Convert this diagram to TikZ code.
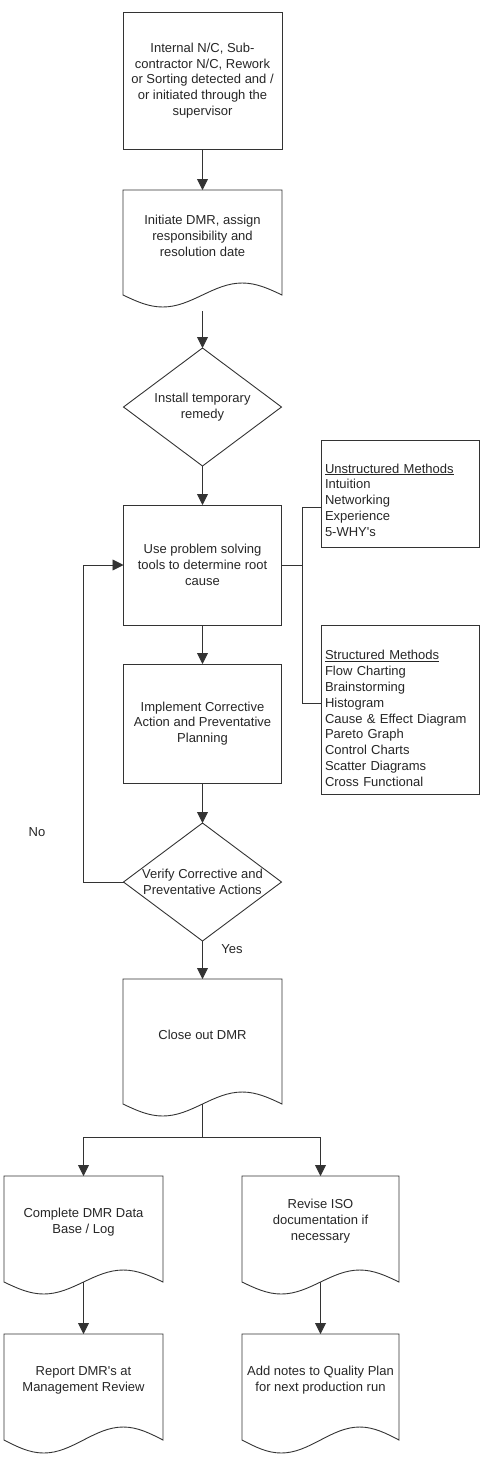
\documentclass[tikz,border=0pt]{standalone}
\usepackage{fontspec}
\setmainfont{Liberation Sans}
\usetikzlibrary{arrows.meta,shapes.geometric,calc}
\newcommand\docoutline[2]{%
  \draw[ln] (#1.south west) -- (#1.north west) -- (#1.north east) -- (#1.south east)
    sin ($(#1.south west)!0.75!(#1.south east)+(0,-#2)$)
    cos (#1.south)
    sin ($(#1.south west)!0.25!(#1.south east)+(0,#2)$)
    cos (#1.south west) -- cycle;}
\begin{document}
\begin{tikzpicture}[x=1pt,y=-1pt,
  every node/.style={font=\fontsize{13}{15.8}\selectfont, text=black!85},
  ln/.style={draw=black!80, line width=0.9pt},
  arr/.style={ln, -{Triangle[length=11pt,width=11pt]}},
  procbox/.style={rectangle, ln, inner sep=0pt, outer sep=0pt, align=center},
  docbox/.style={rectangle, draw=none, inner sep=0pt, outer sep=0pt},
  decision/.style={diamond, ln, inner sep=0pt, outer sep=0pt, minimum width=158pt, minimum height=118pt},
  txt/.style={align=center, inner sep=0pt},
  listtxt/.style={align=left, inner sep=0pt, text width=150pt},
  listbox/.style={rectangle, ln, inner sep=0pt, outer sep=0pt, minimum width=158pt}
]
\useasboundingbox (0,0) rectangle (485,1462);

% main column
\node[procbox, minimum width=159pt, minimum height=137pt] (b1) at (202.5,80.5)
  {Internal N/C, Sub-\\contractor N/C, Rework\\or Sorting detected and /\\or initiated through the\\supervisor};

\node[docbox, minimum width=159pt, minimum height=105pt,
  label={[txt,yshift=6.5pt]center:Initiate DMR, assign\\responsibility and\\resolution date}] (b2) at (202.5,242.5) {};
\docoutline{b2}{12}

\node[decision, label={[txt]center:Install temporary\\remedy}] (d1) at (202.5,407) {};

\node[procbox, minimum width=158pt, minimum height=120pt] (b3) at (202.5,565)
  {Use problem solving\\tools to determine root\\cause};

\node[procbox, minimum width=158pt, minimum height=119pt] (b4) at (202.5,723.5)
  {Implement Corrective\\Action and Preventative\\Planning};

\node[decision, label={[txt]center:Verify Corrective and\\Preventative Actions}] (d2) at (202.5,882) {};

\node[docbox, minimum width=159pt, minimum height=125pt,
  label={[txt,yshift=6.5pt]center:Close out DMR}] (cl) at (202.5,1041.5) {};
\docoutline{cl}{12}

% lower documents
\node[docbox, minimum width=159pt, minimum height=106pt,
  label={[txt,yshift=7pt]center:Complete DMR Data\\Base / Log}] (c1) at (83.5,1229) {};
\docoutline{c1}{12}
\node[docbox, minimum width=157pt, minimum height=106pt,
  label={[txt,yshift=8pt]center:Revise ISO\\documentation if\\necessary}] (r1) at (320.5,1229) {};
\docoutline{r1}{12}
\node[docbox, minimum width=159pt, minimum height=106pt,
  label={[txt,yshift=7pt]center:Report DMR\textquotesingle s at\\Management Review}] (c2) at (83.5,1387) {};
\docoutline{c2}{13}
\node[docbox, minimum width=157pt, minimum height=106pt,
  label={[txt,yshift=7pt]center:Add notes to Quality Plan\\for next production run}] (r2) at (320.5,1387) {};
\docoutline{r2}{13}

% method lists
\node[listbox, minimum height=107pt,
  label={[listtxt,yshift=-6.5pt]center:\underline{Unstructured Methods}\\Intuition\\Networking\\Experience\\5-WHY\textquotesingle s}] (um) at (400,493.5) {};
\node[listbox, minimum height=169pt,
  label={[listtxt,yshift=-9pt]center:\underline{Structured Methods}\\Flow Charting\\Brainstorming\\Histogram\\Cause \& Effect Diagram\\Pareto Graph\\Control Charts\\Scatter Diagrams\\Cross Functional}] (sm) at (400,709.5) {};

% labels
\node[txt] (no) at (37,832) {No};
\node[txt] (yes) at (232,949) {Yes};

% connectors
\draw[arr] (b1.south) -- (b2.north);
\draw[arr] ([yshift=-16pt]b2.south) -- (d1.north);
\draw[arr] (d1.south) -- (b3.north);
\draw[arr] (b3.south) -- (b4.north);
\draw[arr] (b4.south) -- (d2.north);
\draw[arr] (d2.south) -- (cl.north);
\draw[arr] (d2.west) -- ++(-40,0) |- (b3.west);

\coordinate (j) at (302,565);
\coordinate (ju) at (302,507);
\coordinate (js) at (302,703);
\draw[ln] (b3.east) -- (j);
\draw[ln] (ju) -- (js);
\draw[ln] (ju) -- (ju -| um.west);
\draw[ln] (js) -- (js -| sm.west);

\coordinate (br) at (202.5,1137);
\draw[ln] (cl.south) -- (br);
\draw[arr] (br) -| (c1.north);
\draw[arr] (br) -| (r1.north);
\draw[arr] (c1.south) -- (c2.north);
\draw[arr] (r1.south) -- (r2.north);
\end{tikzpicture}
\end{document}
